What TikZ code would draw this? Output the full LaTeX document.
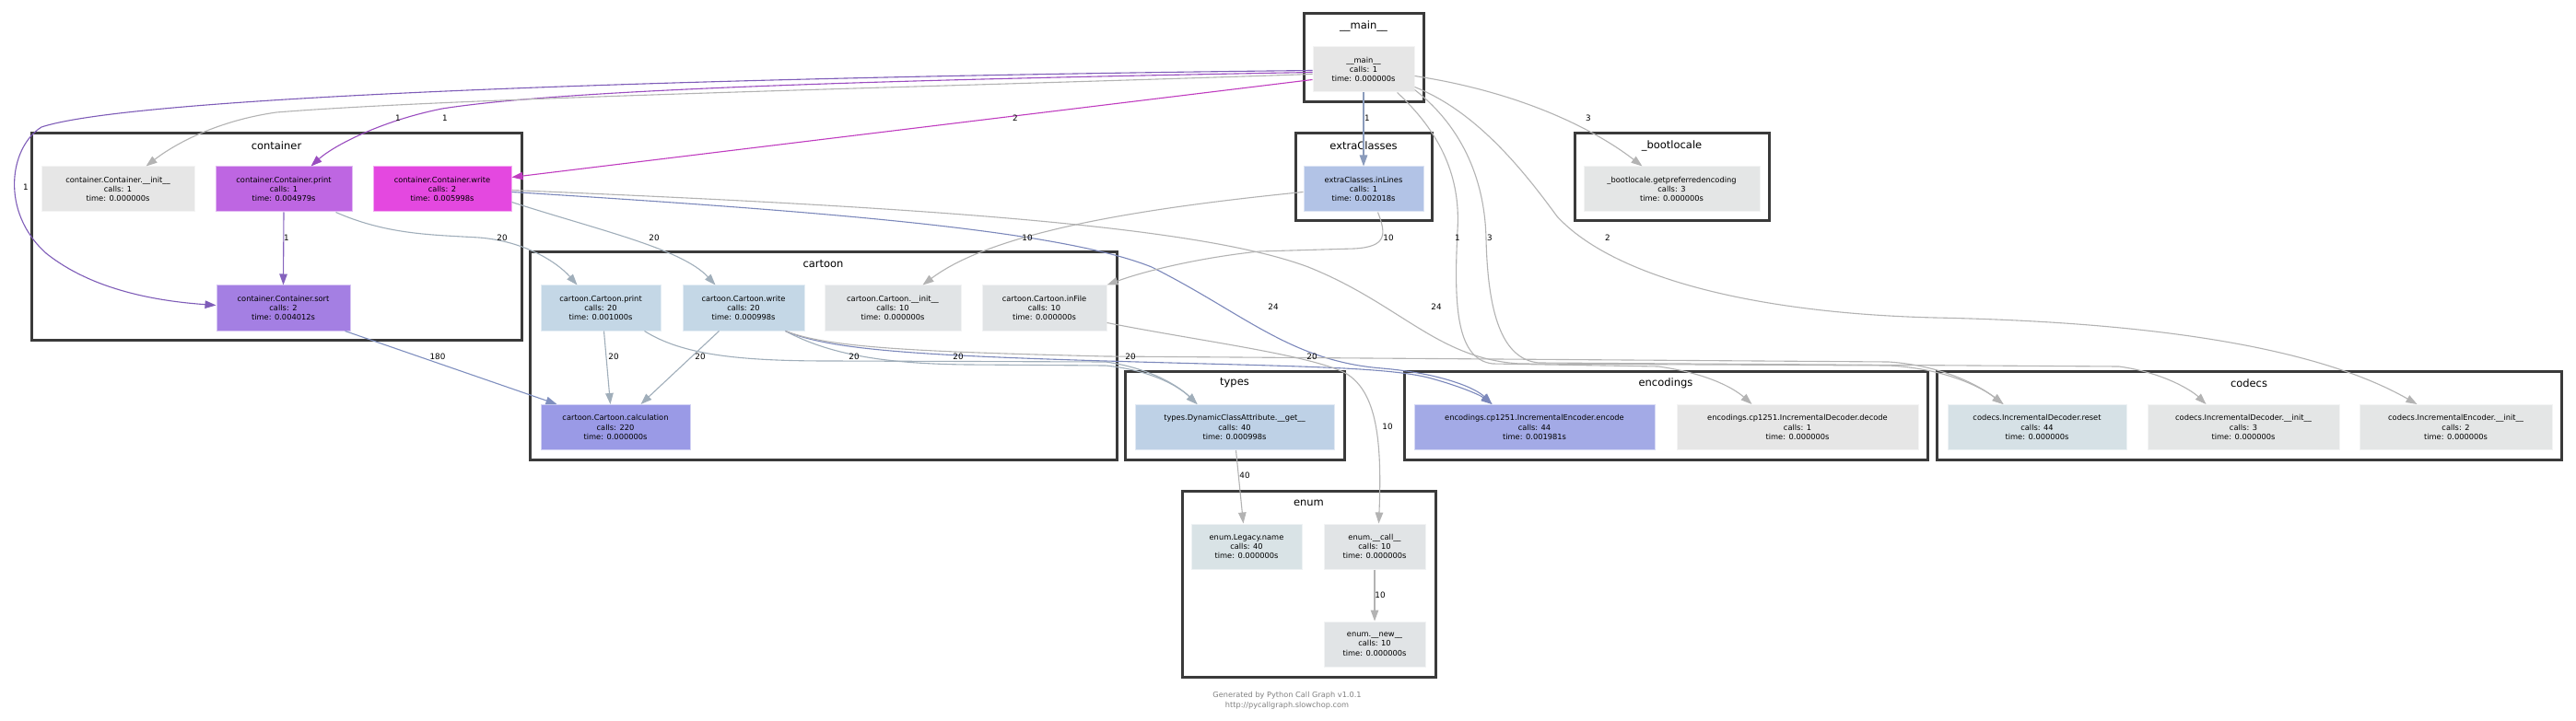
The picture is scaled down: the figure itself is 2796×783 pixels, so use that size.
\documentclass[tikz,border=0pt]{standalone}
\usepackage{fontspec}
\setmainfont{DejaVu Sans}
\usetikzlibrary{arrows.meta,calc}
\definecolor{cgray}{HTML}{E6E6E6}
\definecolor{cprintc}{HTML}{BE66E2}
\definecolor{cwritec}{HTML}{E448E0}
\definecolor{csortc}{HTML}{A47FE3}
\definecolor{cinl}{HTML}{B2C3E6}
\definecolor{cboot}{HTML}{E4E6E6}
\definecolor{ckart}{HTML}{C4D7E6}
\definecolor{ckinit}{HTML}{E1E4E6}
\definecolor{ccalc}{HTML}{9A9AE6}
\definecolor{ctypes}{HTML}{BED1E6}
\definecolor{cenc}{HTML}{A3AAE6}
\definecolor{creset}{HTML}{D6E1E6}
\definecolor{clegacy}{HTML}{D9E3E6}
\definecolor{eGray}{HTML}{B3B3B3}
\definecolor{ePurple}{HTML}{9A4DC0}
\definecolor{eViolet}{HTML}{7E5CB8}
\definecolor{eMagenta}{HTML}{C03CC0}
\definecolor{ePS}{HTML}{8563BD}
\definecolor{eSortCalc}{HTML}{7F8FBF}
\definecolor{eExtra}{HTML}{8A9BBB}
\definecolor{eBlue}{HTML}{7C88BB}
\definecolor{eBG}{HTML}{A0AEBA}
\definecolor{clusline}{HTML}{3A3A3A}
\definecolor{footc}{HTML}{808080}
\begin{document}
\begin{tikzpicture}[x=1pt,y=-1pt,
  fn/.style={rectangle, inner sep=0pt, minimum height=49pt, align=center,
    fill=#1, draw=#1!45!white, line width=1pt,
    font=\fontsize{8.3}{10.4}\selectfont},
  clus/.style={draw=clusline, line width=3pt},
  ctitle/.style={inner sep=0pt, font=\fontsize{11.5}{13}\selectfont},
  eg/.style={draw=#1, line width=1.1pt, -{Triangle[length=12pt,width=8.5pt,fill=#1]}},
  elab/.style={inner sep=0pt, font=\fontsize{8.8}{10}\selectfont},
  foot/.style={inner sep=0pt, text=footc, font=\fontsize{8.2}{10}\selectfont}]
\useasboundingbox[fill=white] (0,0) rectangle (2796,783);

% clusters
\draw[clus] (1415,15) rectangle (1545,111);
\node[ctitle] (tmain) at (1480,28) {\_\_main\_\_};
\draw[clus] (34,145) rectangle (566,369);
\node[ctitle] (tcont) at (300,158) {container};
\draw[clus] (1406,145) rectangle (1554,240);
\node[ctitle] (textra) at (1480,158) {extraClasses};
\draw[clus] (1709,145) rectangle (1920,240);
\node[ctitle] (tboot) at (1814.5,158) {\_bootlocale};
\draw[clus] (575,274) rectangle (1212,499);
\node[ctitle] (tcart) at (893.5,287) {cartoon};
\draw[clus] (1221,403) rectangle (1459,499);
\node[ctitle] (ttypes) at (1340,416) {types};
\draw[clus] (1524,403) rectangle (2092,499);
\node[ctitle] (tenc) at (1808,416) {encodings};
\draw[clus] (2102,403) rectangle (2780,499);
\node[ctitle] (tcod) at (2441,416) {codecs};
\draw[clus] (1283,533) rectangle (1558,735);
\node[ctitle] (tenum) at (1420.5,546) {enum};

% nodes
\node[fn=cgray, minimum width=110pt] (main) at (1480,75.5) {\_\_main\_\_\\calls: 1\\time: 0.000000s};
\node[fn=cgray, minimum width=166pt] (cinit) at (128,205.5) {container.Container.\_\_init\_\_\\calls: 1\\time: 0.000000s};
\node[fn=cprintc, minimum width=148pt] (cprint) at (308,205.5) {container.Container.print\\calls: 1\\time: 0.004979s};
\node[fn=cwritec, minimum width=150pt] (cwrite) at (480,205.5) {container.Container.write\\calls: 2\\time: 0.005998s};
\node[fn=csortc, minimum width=145pt] (csort) at (307.5,334.5) {container.Container.sort\\calls: 2\\time: 0.004012s};
\node[fn=cinl, minimum width=130pt] (inl) at (1480,205.5) {extraClasses.inLines\\calls: 1\\time: 0.002018s};
\node[fn=cboot, minimum width=191pt] (boot) at (1814.5,205.5) {\_bootlocale.getpreferredencoding\\calls: 3\\time: 0.000000s};
\node[fn=ckart, minimum width=130pt] (kprint) at (652,334.5) {cartoon.Cartoon.print\\calls: 20\\time: 0.001000s};
\node[fn=ckart, minimum width=132pt] (kwrite) at (807,334.5) {cartoon.Cartoon.write\\calls: 20\\time: 0.000998s};
\node[fn=ckinit, minimum width=148pt] (kinit) at (969,334.5) {cartoon.Cartoon.\_\_init\_\_\\calls: 10\\time: 0.000000s};
\node[fn=ckinit, minimum width=135pt] (kinfile) at (1133.5,334.5) {cartoon.Cartoon.inFile\\calls: 10\\time: 0.000000s};
\node[fn=ccalc, minimum width=162pt] (kcalc) at (668,464) {cartoon.Cartoon.calculation\\calls: 220\\time: 0.000000s};
\node[fn=ctypes, minimum width=216pt] (types) at (1340,464) {types.DynamicClassAttribute.\_\_get\_\_\\calls: 40\\time: 0.000998s};
\node[fn=cenc, minimum width=261pt] (enc) at (1665.5,464) {encodings.cp1251.IncrementalEncoder.encode\\calls: 44\\time: 0.001981s};
\node[fn=cgray, minimum width=262pt] (dec) at (1951,464) {encodings.cp1251.IncrementalDecoder.decode\\calls: 1\\time: 0.000000s};
\node[fn=creset, minimum width=194pt] (reset) at (2211,464) {codecs.IncrementalDecoder.reset\\calls: 44\\time: 0.000000s};
\node[fn=cboot, minimum width=208pt] (dinit) at (2435,464) {codecs.IncrementalDecoder.\_\_init\_\_\\calls: 3\\time: 0.000000s};
\node[fn=cboot, minimum width=209pt] (einit) at (2665.5,464) {codecs.IncrementalEncoder.\_\_init\_\_\\calls: 2\\time: 0.000000s};
\node[fn=clegacy, minimum width=120pt] (legacy) at (1353,593.5) {enum.Legacy.name\\calls: 40\\time: 0.000000s};
\node[fn=ckinit, minimum width=110pt] (call) at (1492,593.5) {enum.\_\_call\_\_\\calls: 10\\time: 0.000000s};
\node[fn=ckinit, minimum width=110pt] (new) at (1492,699.5) {enum.\_\_new\_\_\\calls: 10\\time: 0.000000s};

% edges from __main__
\draw[eg=eViolet] ($(main.north west)+(0,26)$) .. controls (900,82) and (160,100) .. (45,138)
  .. controls (10,160) and (0,230) .. (50,275) .. controls (100,315) and (170,327) .. ($(csort.north west)+(0,22)$);
\draw[eg=ePurple] ($(main.north west)+(0,28)$) .. controls (1000,86) and (620,96) .. (480,118)
  .. controls (410,132) and (360,160) .. ($(cprint.north west)+(104,0)$);
\draw[eg=eGray] ($(main.north west)+(0,30)$) .. controls (1000,95) and (500,106) .. (300,122)
  .. controls (230,132) and (185,160) .. ($(cinit.north west)+(114,0)$);
\draw[eg=eMagenta] ($(main.north west)+(0,36)$) -- ($(cwrite.north east)+(0,12)$);
\draw[eg=eExtra] (main.south) -- (inl.north);
\draw[eg=eGray] ($(main.north east)+(0,32)$) .. controls (1650,100) and (1730,140) .. ($(boot.north west)+(64,0)$);
\draw[eg=eGray] ($(main.south west)+(92,0)$) .. controls (1570,150) and (1585,200) .. (1582,250)
  .. controls (1578,330) and (1580,390) .. (1620,395) -- (1800,398)
  .. controls (1850,405) and (1880,420) .. ($(dec.north west)+(82,0)$);
\draw[eg=eGray] ($(main.north east)+(0,47)$) .. controls (1590,140) and (1612,200) .. (1613,260)
  .. controls (1615,340) and (1630,390) .. (1670,394) -- (2300,398)
  .. controls (2350,405) and (2380,425) .. ($(dinit.north west)+(64,0)$);
\draw[eg=eGray] ($(main.north east)+(0,44)$) .. controls (1600,120) and (1650,180) .. (1690,235)
  .. controls (1750,300) and (1900,340) .. (2100,345)
  .. controls (2350,350) and (2520,380) .. ($(einit.north west)+(63,0)$);

% container edges
\draw[eg=ePS] (cprint.south) -- (csort.north);
\draw[eg=eBG] ($(cprint.south east)+(-18,0)$) .. controls (420,255) and (470,255) .. (520,258)
  .. controls (570,262) and (605,285) .. ($(kprint.north west)+(40,0)$);
\draw[eg=eBG] ($(cwrite.north east)+(0,39)$) .. controls (650,250) and (740,270) .. ($(kwrite.north west)+(36,0)$);
\draw[eg=eBlue] ($(cwrite.north east)+(0,28)$) .. controls (900,230) and (1150,250) .. (1250,290)
  .. controls (1350,340) and (1400,392) .. (1500,400) .. controls (1560,405) and (1600,420) .. ($(enc.north west)+(85,0)$);
\draw[eg=eGray] ($(cwrite.north east)+(0,26)$) .. controls (1000,225) and (1300,245) .. (1420,290)
  .. controls (1520,330) and (1560,390) .. (1650,395) -- (2050,397)
  .. controls (2110,400) and (2150,420) .. ($(reset.north west)+(61,0)$);
\draw[eg=eSortCalc] ($(csort.south east)+(-6,0)$) -- ($(kcalc.north west)+(18,0)$);

% extraClasses edges
\draw[eg=eGray] ($(inl.west)+(0,3)$) .. controls (1250,225) and (1080,250) .. ($(kinit.north west)+(107,0)$);
\draw[eg=eGray] ($(inl.south west)+(81,0)$) .. controls (1505,255) and (1505,268) .. (1470,270) -- (1367,273)
  .. controls (1300,280) and (1240,295) .. (kinfile.north east);

% cartoon edges
\draw[eg=eBG] ($(kprint.south west)+(69,0)$) -- ($(kcalc.north west)+(76,0)$);
\draw[eg=eBG] ($(kwrite.south west)+(40,0)$) -- ($(kcalc.north west)+(109,0)$);
\draw[eg=eBG] ($(kprint.south east)+(-18,0)$) .. controls (740,385) and (800,392) .. (900,392) -- (1200,393)
  .. controls (1250,400) and (1280,420) .. ($(types.north west)+(68,0)$);
\draw[eg=eBG] ($(kwrite.south east)+(-21,0)$) .. controls (900,385) and (960,395) .. (1050,396) -- (1200,397)
  .. controls (1250,402) and (1280,420) .. ($(types.north west)+(68,0)$);
\draw[eg=eBlue] ($(kwrite.south east)+(-21,0)$) .. controls (900,380) and (1000,386) .. (1200,392)
  .. controls (1400,398) and (1500,398) .. (1550,410) .. controls (1580,418) and (1605,428) .. ($(enc.north west)+(85,0)$);
\draw[eg=eGray] ($(kwrite.south east)+(-21,0)$) .. controls (900,378) and (1000,382) .. (1200,387) -- (2050,393)
  .. controls (2110,397) and (2150,420) .. ($(reset.north west)+(61,0)$);
\draw[eg=eGray] ($(kinfile.east)+(0,16)$) .. controls (1300,370) and (1420,385) .. (1460,405)
  .. controls (1495,425) and (1500,480) .. ($(call.north west)+(60,0)$);

% types / enum
\draw[eg=eGray] ($(types.south west)+(110,0)$) -- ($(legacy.north west)+(57,0)$);
\draw[eg=eGray] (call.south) -- (new.north);

% edge labels
\node[elab] (l1) at (483,128) {1};
\node[elab] (l2) at (432,128) {1};
\node[elab] (l3) at (28,203) {1};
\node[elab] (l4) at (1102,128) {2};
\node[elab] (l5) at (1484,128) {1};
\node[elab] (l6) at (1724,128) {3};
\node[elab] (l7) at (1582,258) {1};
\node[elab] (l8) at (1617,258) {3};
\node[elab] (l9) at (1745,258) {2};
\node[elab] (l10) at (710,258) {20};
\node[elab] (l11) at (545,258) {20};
\node[elab] (l12) at (1382,333) {24};
\node[elab] (l13) at (1559,333) {24};
\node[elab] (l14) at (1115,258) {10};
\node[elab] (l15) at (1507,258) {10};
\node[elab] (l16) at (475,387) {180};
\node[elab] (l17) at (666,387) {20};
\node[elab] (l18) at (760,387) {20};
\node[elab] (l19) at (927,387) {20};
\node[elab] (l20) at (1040,387) {20};
\node[elab] (l21) at (1227,387) {20};
\node[elab] (l22) at (1424,387) {20};
\node[elab] (l23) at (1506,463) {10};
\node[elab] (l24) at (1351,516) {40};
\node[elab] (l25) at (1498,646) {10};
\node[elab] (l26) at (311,258) {1};

% footer
\node[foot] (f1) at (1397,755) {Generated by Python Call Graph v1.0.1};
\node[foot] (f2) at (1397,766) {http://pycallgraph.slowchop.com};
\end{tikzpicture}
\end{document}
